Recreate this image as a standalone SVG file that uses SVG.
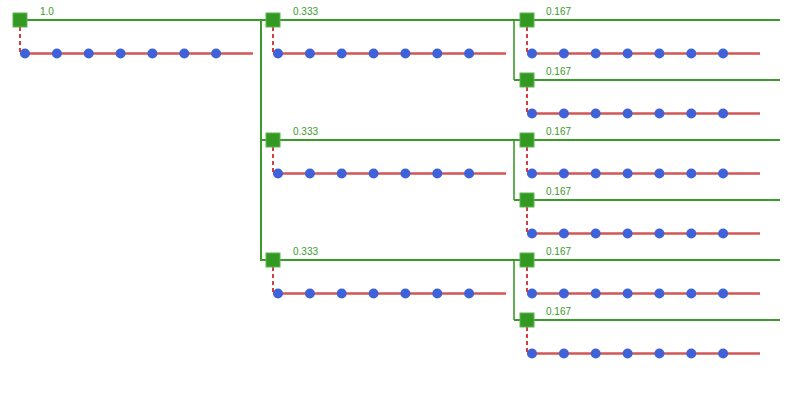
<svg xmlns="http://www.w3.org/2000/svg" width="800" height="400" viewBox="0 0 800 400">
<style>
.g{stroke:#3a9a2a;stroke-width:2;fill:none}
.gv{stroke:#3a9a2a;stroke-width:1.6;fill:none}
.r{stroke:#cc4444;stroke-width:2.6;fill:none;opacity:0.9}
.d{stroke:#d04040;stroke-width:2;stroke-dasharray:4 3;fill:none}
.n{fill:#339922;stroke:#5cb84c;stroke-width:1}
.dot{fill:#4062d8}
.lbl{font-family:"Liberation Sans",Arial,sans-serif;font-size:10px;fill:#3a9a2a}
</style>
<defs>
<g id="row">
<line class="r" x1="0" y1="33.5" x2="233" y2="33.5"/>
<circle class="dot" cx="5" cy="33.5" r="5"/>
<circle class="dot" cx="36.9" cy="33.5" r="5"/>
<circle class="dot" cx="68.7" cy="33.5" r="5"/>
<circle class="dot" cx="100.6" cy="33.5" r="5"/>
<circle class="dot" cx="132.4" cy="33.5" r="5"/>
<circle class="dot" cx="164.3" cy="33.5" r="5"/>
<circle class="dot" cx="196.1" cy="33.5" r="5"/>
<line class="d" x1="0" y1="7" x2="0" y2="33.5"/>
</g>
</defs>
<g id="connectors">
<line class="g" x1="20" y1="20" x2="780" y2="20"/>
<line class="g" x1="261" y1="140" x2="780" y2="140"/>
<line class="g" x1="261" y1="260" x2="780" y2="260"/>
<line class="g" x1="514" y1="80" x2="780" y2="80"/>
<line class="g" x1="514" y1="200" x2="780" y2="200"/>
<line class="g" x1="514" y1="320" x2="780" y2="320"/>
<line class="g" x1="261" y1="19" x2="261" y2="261"/>
<line class="gv" x1="514" y1="20" x2="514" y2="80"/>
<line class="gv" x1="514" y1="140" x2="514" y2="200"/>
<line class="gv" x1="514" y1="260" x2="514" y2="320"/>
</g>
<g id="n-root"><use href="#row" x="20" y="20"/><rect class="n" x="13" y="13" width="14" height="14"/><text class="lbl" x="40" y="15">1.0</text></g>
<g id="n-a"><use href="#row" x="273" y="20"/><rect class="n" x="266" y="13" width="14" height="14"/><text class="lbl" x="293" y="15">0.333</text></g>
<g id="n-b"><use href="#row" x="273" y="140"/><rect class="n" x="266" y="133" width="14" height="14"/><text class="lbl" x="293" y="135">0.333</text></g>
<g id="n-c"><use href="#row" x="273" y="260"/><rect class="n" x="266" y="253" width="14" height="14"/><text class="lbl" x="293" y="255">0.333</text></g>
<g id="n-a1"><use href="#row" x="527" y="20"/><rect class="n" x="520" y="13" width="14" height="14"/><text class="lbl" x="546" y="15">0.167</text></g>
<g id="n-a2"><use href="#row" x="527" y="80"/><rect class="n" x="520" y="73" width="14" height="14"/><text class="lbl" x="546" y="75">0.167</text></g>
<g id="n-b1"><use href="#row" x="527" y="140"/><rect class="n" x="520" y="133" width="14" height="14"/><text class="lbl" x="546" y="135">0.167</text></g>
<g id="n-b2"><use href="#row" x="527" y="200"/><rect class="n" x="520" y="193" width="14" height="14"/><text class="lbl" x="546" y="195">0.167</text></g>
<g id="n-c1"><use href="#row" x="527" y="260"/><rect class="n" x="520" y="253" width="14" height="14"/><text class="lbl" x="546" y="255">0.167</text></g>
<g id="n-c2"><use href="#row" x="527" y="320"/><rect class="n" x="520" y="313" width="14" height="14"/><text class="lbl" x="546" y="315">0.167</text></g>
</svg>
